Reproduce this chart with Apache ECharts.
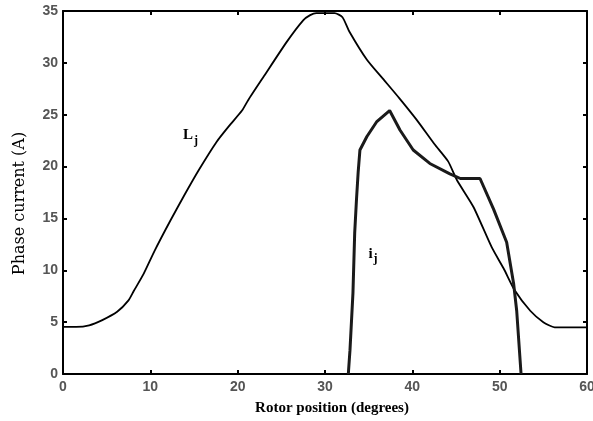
<!DOCTYPE html>
<html>
<head>
<meta charset="utf-8">
<script src="https://cdn.jsdelivr.net/npm/echarts@6/dist/echarts.min.js"></script>
<style>
  html, body { margin: 0; padding: 0; background: #fff; }
  #chart { width: 593px; height: 421px; }
</style>
</head>
<body>
<div id="chart"></div>
<script>
// phase inductance profile L_j (drawn on the current scale)
const lAngle = [0, 1.5, 3, 4.5, 6.2, 7.5, 8.1, 9.2, 10.5, 12.3, 14, 15.5, 17.6, 19, 20.5, 21.2, 23, 25.6, 27.5, 28.3, 29, 30, 31.1, 32, 32.8, 34.8, 36.7, 38.5, 40.5, 42.5, 44.1, 45.1, 47, 49.1, 50.5, 51.7, 53.5, 55, 56.3, 58, 60]
const lValue = [4.55, 4.55, 4.7, 5.2, 6.0, 7.1, 8.0, 9.6, 11.9, 14.8, 17.4, 19.6, 22.4, 23.9, 25.4, 26.4, 28.7, 32.0, 34.1, 34.6, 34.8, 34.8, 34.8, 34.4, 33.0, 30.3, 28.4, 26.6, 24.5, 22.2, 20.5, 18.7, 16.1, 12.2, 10.1, 8.1, 6.1, 5.0, 4.5, 4.5, 4.5]

// phase current i_j
const iAngle = [32.67, 32.86, 33.2, 33.4, 33.6, 33.8, 34.0, 34.8, 35.9, 37.4, 38.6, 40.1, 42.0, 44.3, 45.5, 47.75, 49.3, 50.8, 51.6, 51.95, 52.45]
const iValue = [0, 2.3, 7.8, 13.6, 16.75, 19.5, 21.6, 22.9, 24.3, 25.4, 23.5, 21.6, 20.3, 19.3, 18.85, 18.85, 15.9, 12.7, 8.7, 6.1, 0]

// curve annotations
const noteLabels = ['{b|L}{s|j}', '{b|i}{s|j}']
const notePos = [[14.6, 23.0], [35.5, 11.6]]

const chart = echarts.init(document.getElementById('chart'))

const tickLabel = {
  color: '#555',
  fontFamily: 'Liberation Sans, Arial, sans-serif',
  fontWeight: 'bold',
  fontSize: 14
}
const axisLine = { onZero: false, lineStyle: { color: '#000', width: 2 } }
const tick = { inside: true, length: 4, lineStyle: { color: '#000', width: 2 } }
const noteRich = {
  b: { fontFamily: 'Liberation Serif, serif', fontWeight: 'bold', fontSize: 15, color: '#000' },
  s: { fontFamily: 'Liberation Serif, serif', fontWeight: 'bold', fontSize: 12, color: '#000', padding: [10, 0, 0, 1] }
}

const option = {
  animation: false,
  backgroundColor: '#fff',
  grid: { left: 63, right: 6, top: 11, bottom: 47, outerBoundsMode: 'none', containLabel: false },
  xAxis: [
    {
      type: 'value',
      min: 0, max: 60, interval: 10,
      name: 'Rotor position (degrees)',
      nameLocation: 'middle',
      nameGap: 27,
      nameTextStyle: {
        fontFamily: 'Liberation Serif, Times New Roman, serif',
        fontWeight: 'bold', fontSize: 15, color: '#000',
        padding: [0, 0, 0, 14]
      },
      axisLine: axisLine,
      axisTick: tick,
      axisLabel: Object.assign({ margin: 6 }, tickLabel),
      splitLine: { show: false }
    },
    {
      type: 'value', position: 'top', show: true,
      min: 0, max: 60, interval: 10,
      axisLine: axisLine,
      axisTick: tick,
      axisLabel: { show: false },
      splitLine: { show: false }
    }
  ],
  yAxis: [
    {
      type: 'value',
      min: 0, max: 35, interval: 5,
      name: 'Phase current (A)',
      nameLocation: 'middle',
      nameGap: 35,
      nameTextStyle: {
        fontFamily: 'DejaVu Serif, serif',
        fontSize: 16, color: '#000',
        padding: [0, 22, 0, 0]
      },
      axisLine: axisLine,
      axisTick: tick,
      axisLabel: Object.assign({ margin: 5 }, tickLabel),
      splitLine: { show: false }
    },
    {
      type: 'value', position: 'right', show: true,
      min: 0, max: 35, interval: 5,
      axisLine: axisLine,
      axisTick: tick,
      axisLabel: { show: false },
      splitLine: { show: false }
    }
  ],
  series: [
    {
      name: 'L',
      type: 'line',
      data: lAngle.map((a, k) => [a, lValue[k]]),
      showSymbol: false,
      smooth: 0.2,
      lineStyle: { color: '#000', width: 1.8 },
      markPoint: {
        symbol: 'circle', symbolSize: 0,
        data: [{ coord: notePos[0], value: noteLabels[0] }],
        label: { show: true, formatter: p => p.value, rich: noteRich }
      }
    },
    {
      name: 'i',
      type: 'line',
      data: iAngle.map((a, k) => [a, iValue[k]]),
      showSymbol: false,
      lineStyle: { color: '#1a1a1a', width: 3 },
      markPoint: {
        symbol: 'circle', symbolSize: 0,
        data: [{ coord: notePos[1], value: noteLabels[1] }],
        label: { show: true, formatter: p => p.value, rich: noteRich }
      }
    }
  ]
}

chart.setOption(option)
</script>
</body>
</html>
